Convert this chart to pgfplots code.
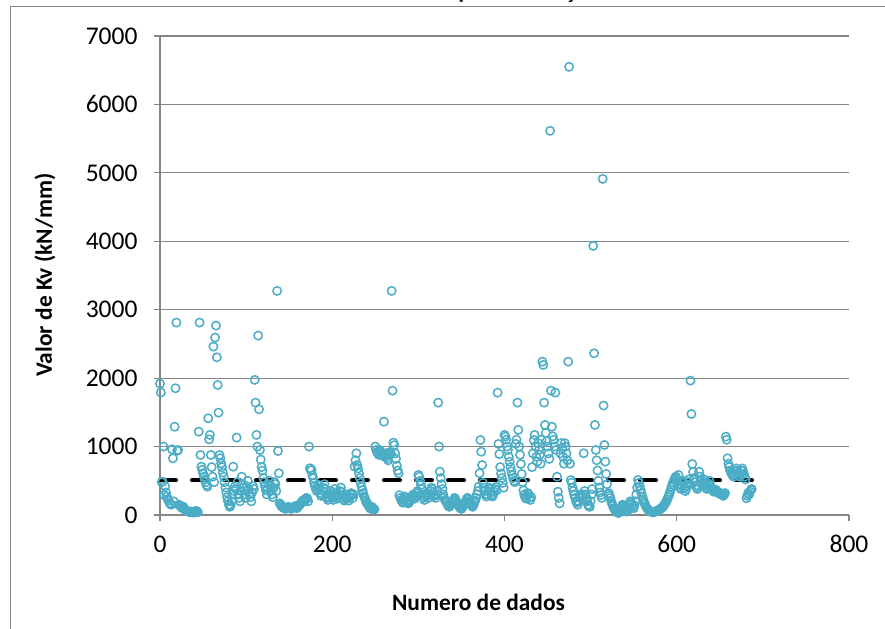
\documentclass[border=0pt]{standalone}
\usepackage{pgfplots}
\pgfplotsset{compat=1.18}
\usepackage{fontspec}
\setmainfont{Carlito}
\definecolor{kvblue}{RGB}{75,172,198}
\definecolor{gridgray}{RGB}{134,134,134}
\begin{document}
\begin{tikzpicture}
\begin{axis}[
    at={(160bp,114bp)}, anchor=south west,
    scale only axis, width=689bp, height=479bp,
    xmin=0, xmax=800, ymin=0, ymax=7000,
    xtick={0,200,...,800}, ytick={0,1000,...,7000},
    axis lines=left,
    axis line style={-, draw=gridgray, line width=1.2bp},
    tick style={draw=gridgray, line width=1.2bp},
    tick align=outside, major tick length=6bp,
    ymajorgrids,
    major grid style={draw=gridgray, line width=1.2bp},
    tick label style={font=\fontsize{25.5bp}{30bp}\selectfont},
    /pgf/number format/assume math mode=true,
    /pgf/number format/1000 sep={},
    xticklabel style={yshift=-11bp},
    yticklabel style={xshift=-13bp},
    clip=false,
]
% Kv por ponto
\addplot[only marks, mark=o, mark size=4.2bp, draw=kvblue, mark options={line width=1.5bp, draw=kvblue}]
coordinates {
(0,1920)(1,1790)(2,480)(3,487)(4,1000)(5,290)(6,420)(7,330)(8,270)(9,230)
(10,210)(11,175)(12,160)(13,150)(14,960)(15,829)(16,200)(17,1290)(18,1852)(19,2812)
(20,940)(21,950)(22,150)(23,140)(24,130)(25,110)(26,100)(27,120)(28,90)(29,80)
(30,70)(31,60)(32,55)(33,50)(34,45)(35,40)(36,50)(37,45)(38,40)(39,35)
(40,45)(41,55)(42,60)(43,50)(44,40)(45,1218)(46,2812)(47,877)(48,706)(49,660)
(50,610)(51,560)(52,520)(53,480)(54,440)(55,414)(56,1413)(57,1106)(58,1170)(59,877)
(60,700)(61,560)(62,2461)(63,480)(64,2593)(65,2768)(66,2305)(67,1900)(68,1496)(69,877)
(70,830)(71,755)(72,700)(73,620)(74,560)(75,480)(76,400)(77,330)(78,260)(79,200)
(80,150)(81,120)(82,140)(83,200)(84,300)(85,706)(86,350)(87,420)(88,380)(89,1131)
(90,480)(91,300)(92,250)(93,200)(94,350)(95,560)(96,450)(97,400)(98,300)(99,250)
(100,350)(101,420)(102,500)(103,380)(104,300)(105,260)(106,200)(107,330)(108,420)(109,380)
(110,1974)(111,1642)(112,1170)(113,1000)(114,2622)(115,1545)(116,950)(117,810)(118,700)(119,650)
(120,540)(121,480)(122,420)(123,360)(124,300)(125,380)(126,450)(127,500)(128,420)(129,350)
(130,300)(131,260)(132,400)(133,480)(134,450)(135,350)(136,3275)(137,935)(138,610)(139,170)
(140,150)(141,130)(142,120)(143,110)(144,100)(145,100)(146,90)(147,100)(148,110)(149,120)
(150,110)(151,100)(152,90)(153,95)(154,105)(155,115)(156,120)(157,130)(158,110)(159,100)
(160,120)(161,140)(162,150)(163,160)(164,180)(165,200)(166,210)(167,220)(168,200)(169,230)
(170,250)(171,240)(172,200)(173,1000)(174,683)(175,655)(176,660)(177,580)(178,537)(179,470)
(180,420)(181,380)(182,350)(183,400)(184,440)(185,380)(186,320)(187,280)(188,300)(189,350)
(190,400)(191,450)(192,380)(193,300)(194,250)(195,220)(196,260)(197,300)(198,350)(199,280)
(200,250)(201,220)(202,300)(203,380)(204,330)(205,280)(206,240)(207,260)(208,300)(209,350)
(210,400)(211,330)(212,270)(213,230)(214,210)(215,250)(216,300)(217,270)(218,240)(219,210)
(220,260)(221,300)(222,320)(223,290)(224,250)(225,300)(226,706)(227,800)(228,902)(229,730)
(230,680)(231,610)(232,540)(233,470)(234,410)(235,365)(236,320)(237,270)(238,240)(239,200)
(240,180)(241,160)(242,140)(243,120)(244,100)(245,90)(246,120)(247,100)(248,90)(249,83)
(250,1000)(251,950)(252,920)(253,900)(254,880)(255,950)(256,930)(257,900)(258,870)(259,880)
(260,1364)(261,850)(262,900)(263,870)(264,830)(265,800)(266,880)(267,920)(268,900)(269,3275)
(270,1817)(271,1057)(272,1020)(273,900)(274,820)(275,720)(276,650)(277,610)(278,290)(279,250)
(280,220)(281,200)(282,180)(283,230)(284,270)(285,250)(286,210)(287,190)(288,170)(289,180)
(290,200)(291,220)(292,250)(293,280)(294,300)(295,260)(296,240)(297,280)(298,320)(299,350)
(300,585)(301,560)(302,500)(303,440)(304,380)(305,300)(306,250)(307,220)(308,270)(309,300)
(310,320)(311,280)(312,250)(313,300)(314,350)(315,400)(316,380)(317,330)(318,300)(319,280)
(320,250)(321,300)(322,350)(323,1642)(324,1000)(325,633)(326,540)(327,450)(328,380)(329,300)
(330,250)(331,220)(332,200)(333,180)(334,150)(335,130)(336,120)(337,140)(338,160)(339,180)
(340,200)(341,220)(342,250)(343,230)(344,200)(345,180)(346,150)(347,130)(348,110)(349,100)
(350,90)(351,110)(352,130)(353,150)(354,170)(355,200)(356,230)(357,250)(358,230)(359,200)
(360,180)(361,160)(362,140)(363,120)(364,150)(365,180)(366,210)(367,250)(368,300)(369,350)
(370,414)(371,610)(372,1096)(373,925)(374,730)(375,470)(376,400)(377,350)(378,300)(379,270)
(380,300)(381,350)(382,400)(383,380)(384,330)(385,290)(386,270)(387,300)(388,340)(389,380)
(390,410)(391,360)(392,1788)(393,1038)(394,890)(395,700)(396,605)(397,540)(398,470)(399,400)
(400,1170)(401,1145)(402,1100)(403,1000)(404,950)(405,850)(406,780)(407,700)(408,640)(409,580)
(410,540)(411,500)(412,480)(413,1040)(414,1100)(415,1642)(416,1243)(417,1000)(418,880)(419,745)
(420,600)(421,480)(422,360)(423,300)(424,260)(425,240)(426,280)(427,320)(428,300)(429,250)
(430,220)(431,260)(432,700)(433,900)(434,1096)(435,1170)(436,1000)(437,850)(438,780)(439,1050)
(440,950)(441,880)(442,750)(443,1100)(444,2241)(445,2193)(446,1642)(447,1316)(448,1200)(449,1080)
(450,1000)(451,900)(452,820)(453,5614)(454,1817)(455,1290)(456,1150)(457,1100)(458,1000)(459,1788)
(460,950)(461,560)(462,340)(463,250)(464,170)(465,900)(466,1050)(467,980)(468,850)(469,750)
(470,1050)(471,1000)(472,900)(473,800)(474,2241)(475,6550)(476,750)(477,510)(478,472)(479,400)
(480,350)(481,300)(482,250)(483,200)(484,180)(485,150)(486,200)(487,260)(488,300)(489,280)
(490,250)(491,300)(492,902)(493,350)(494,300)(495,250)(496,200)(497,150)(498,130)(499,120)
(500,200)(501,300)(502,380)(503,3933)(504,2363)(505,1316)(506,950)(507,800)(508,650)(509,500)
(510,400)(511,330)(512,290)(513,250)(514,4912)(515,1600)(516,1023)(517,780)(518,600)(519,450)
(520,300)(521,320)(522,280)(523,250)(524,200)(525,160)(526,130)(527,100)(528,80)(529,60)
(530,60)(531,40)(532,30)(533,35)(534,50)(535,80)(536,120)(537,150)(538,130)(539,100)
(540,80)(541,60)(542,50)(543,70)(544,100)(545,150)(546,200)(547,180)(548,150)(549,120)
(550,100)(551,140)(552,200)(553,300)(554,400)(555,512)(556,470)(557,420)(558,370)(559,320)
(560,270)(561,230)(562,190)(563,160)(564,130)(565,110)(566,90)(567,75)(568,65)(569,55)
(570,50)(571,45)(572,40)(573,40)(574,45)(575,50)(576,55)(577,60)(578,65)(579,70)
(580,80)(581,90)(582,100)(583,110)(584,120)(585,140)(586,160)(587,180)(588,200)(589,230)
(590,260)(591,290)(592,330)(593,370)(594,410)(595,450)(596,480)(597,510)(598,540)(599,560)
(600,520)(601,480)(602,585)(603,450)(604,400)(605,380)(606,420)(607,500)(608,470)(609,400)
(610,350)(611,380)(612,430)(613,480)(614,520)(615,450)(616,1964)(617,1476)(618,745)(619,630)
(620,540)(621,480)(622,430)(623,400)(624,380)(625,420)(626,633)(627,560)(628,500)(629,450)
(630,420)(631,480)(632,520)(633,450)(634,400)(635,380)(636,420)(637,460)(638,500)(639,440)
(640,400)(641,380)(642,360)(643,340)(644,350)(645,370)(646,360)(647,340)(648,330)(649,320)
(650,310)(651,320)(652,300)(653,290)(654,280)(655,300)(656,320)(657,1145)(658,1100)(659,829)
(660,750)(661,700)(662,650)(663,620)(664,600)(665,580)(666,560)(667,600)(668,640)(669,680)
(670,650)(671,620)(672,580)(673,560)(674,600)(675,650)(676,680)(677,640)(678,600)(679,560)
(680,520)(681,245)(682,280)(683,320)(684,300)(685,340)(686,365)(687,380)
};
% media
\addplot[black, line width=4bp, line cap=round, dash pattern=on 16bp off 16bp]
coordinates {(0,505) (688,505)};
\end{axis}
\draw[gridgray, line width=1bp] (10bp,-5bp) -- (10bp,622bp) -- (895bp,622bp);
\node[anchor=base, font=\fontsize{24bp}{28bp}\selectfont\bfseries] at (432bp,630.5bp)
  {Gráfico - Coeficiente de recalque em função da média};
\node[rotate=90, font=\fontsize{23.4bp}{28bp}\selectfont\bfseries] at (45bp,354bp)
  {Valor de Kv (kN/mm)};
\node[anchor=base, font=\fontsize{23.4bp}{28bp}\selectfont\bfseries] at (478.5bp,19bp)
  {Numero de dados};
\pgfresetboundingbox
\path[use as bounding box] (0,0) rectangle (885bp,629bp);
\end{tikzpicture}
\end{document}
